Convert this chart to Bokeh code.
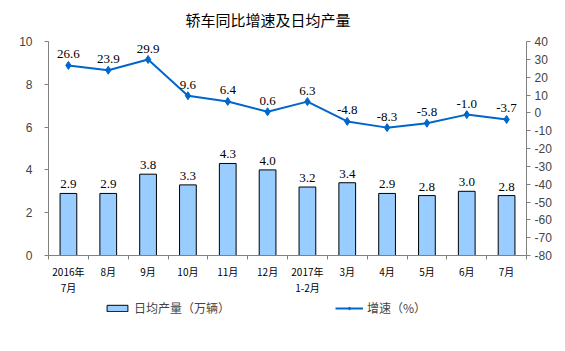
from bokeh.plotting import figure
from bokeh.layouts import column
from bokeh.models import (ColumnDataSource, Range1d, LinearAxis, FixedTicker, LabelSet,
                          Legend, LegendItem, Label)
from bokeh.embed import file_html
from bokeh.resources import INLINE

title_text = "轿车同比增速及日均产量"
categories = ["2016年\n7月", "8月", "9月", "10月", "11月", "12月", "2017年\n1-2月",
              "3月", "4月", "5月", "6月", "7月"]
daily_output = [2.9, 2.9, 3.8, 3.3, 4.3, 4.0, 3.2, 3.4, 2.9, 2.8, 3.0, 2.8]
growth = [26.6, 23.9, 29.9, 9.6, 6.4, 0.6, 6.3, -4.8, -8.3, -5.8, -1.0, -3.7]
left_ticks = [0, 2, 4, 6, 8, 10]
right_ticks = list(range(-80, 41, 10))
bar_name = "日均产量（万辆）"
line_name = "增速（%）"

xs = list(range(len(categories)))
src = ColumnDataSource(dict(
    x=xs, out=daily_output, g=growth,
    out_lbl=[f"{v:.1f}" for v in daily_output],
    g_lbl=[f"{v:.1f}" for v in growth],
))

BAR_FILL = "#99CCFF"
LINE_COL = "#0066CC"
AX_COL = "#808080"
num_font = "Arial"
cjk_font = "Noto Sans CJK SC"


def bare(fig):
    fig.grid.visible = False
    fig.outline_line_color = None


# ---- title strip (frames are aligned with the main chart's frame, left edge at x=48)
tf = figure(width=565, height=32, output_backend="svg", toolbar_location=None,
            x_range=Range1d(0, 1), y_range=Range1d(0, 1),
            x_axis_location=None, y_axis_location=None,
            min_border_left=0, min_border_right=0, min_border_top=0, min_border_bottom=0)
bare(tf)
tf.add_layout(Label(x=137, y=13, x_units="screen", y_units="screen", text=title_text,
                    text_font=cjk_font, text_font_size="15px", text_baseline="middle",
                    text_align="left", text_color="black"))

# ---- main chart
p = figure(width=565, height=266, output_backend="svg", toolbar_location=None,
           x_range=Range1d(-0.5, 11.5), y_range=Range1d(0, 10),
           min_border_left=48, min_border_right=39, min_border_top=9, min_border_bottom=30)
bare(p)
p.extra_y_ranges = {"pct": Range1d(-80, 40)}

p.vbar(x="x", top="out", width=0.42, source=src, fill_color=BAR_FILL,
       line_color="black", line_width=1)
p.line(x="x", y="g", source=src, y_range_name="pct", line_color=LINE_COL, line_width=2)
p.scatter(x="x", y="g", source=src, y_range_name="pct", marker="diamond", size=8,
          fill_color=LINE_COL, line_color=LINE_COL)

xa = p.xaxis[0]
xa.ticker = FixedTicker(ticks=xs, minor_ticks=[i - 0.5 for i in range(len(categories) + 1)])
xa.major_label_overrides = {i: c for i, c in enumerate(categories)}
xa.major_tick_line_color = None
xa.minor_tick_in = 0
xa.minor_tick_out = 4
xa.minor_tick_line_color = AX_COL
xa.axis_line_color = AX_COL
xa.major_label_text_font = cjk_font
xa.major_label_text_font_size = "10px"
xa.major_label_text_line_height = 1.1
xa.major_label_standoff = 2
xa.major_label_text_color = "black"

ya = p.yaxis[0]
ya.ticker = FixedTicker(ticks=left_ticks)
ya.minor_tick_line_color = None
ya.major_tick_in = 0
ya.major_tick_out = 4
ya.major_tick_line_color = AX_COL
ya.axis_line_color = AX_COL
ya.major_label_text_font = num_font
ya.major_label_text_font_size = "12px"
ya.major_label_standoff = 12

ra = LinearAxis(y_range_name="pct", ticker=FixedTicker(ticks=right_ticks))
ra.major_label_overrides = {t: str(t) for t in right_ticks}
ra.minor_tick_line_color = None
ra.major_tick_in = 0
ra.major_tick_out = 4
ra.major_tick_line_color = AX_COL
ra.axis_line_color = AX_COL
ra.major_label_text_font = num_font
ra.major_label_text_font_size = "12px"
ra.major_label_standoff = 4
p.add_layout(ra, "right")

p.add_layout(LabelSet(x="x", y="out", text="out_lbl", source=src, text_align="center",
                      y_offset=5, text_font=num_font, text_font_size="13px", text_color="black"))
p.add_layout(LabelSet(x="x", y="g", text="g_lbl", source=src, y_range_name="pct",
                      text_align="center", y_offset=7, text_font=num_font,
                      text_font_size="13px", text_color="black"))

# ---- legend strip
lg = figure(width=565, height=53, output_backend="svg", toolbar_location=None,
            x_range=Range1d(0, 1), y_range=Range1d(0, 1),
            x_axis_location=None, y_axis_location=None,
            min_border_left=0, min_border_right=0, min_border_top=0, min_border_bottom=0)
bare(lg)
dummy = ColumnDataSource(dict(x=[-10], y=[-10], top=[-10]))
rb = lg.vbar(x="x", top="top", width=0.1, source=dummy, fill_color=BAR_FILL,
             line_color="black", line_width=1)
rl = lg.line(x="x", y="y", source=dummy, line_color=LINE_COL, line_width=2)
rs = lg.scatter(x="x", y="y", source=dummy, marker="diamond", size=8,
                fill_color=LINE_COL, line_color=LINE_COL)

common = dict(label_text_font=cjk_font, label_text_font_size="12px", glyph_height=8,
              border_line_color=None, background_fill_alpha=0, padding=0, margin=0,
              label_standoff=4, label_height=14)
lg.add_layout(Legend(items=[LegendItem(label=bar_name, renderers=[rb])], location=(56, 35),
                     glyph_width=26, **common))
lg.add_layout(Legend(items=[LegendItem(label=line_name, renderers=[rl, rs])], location=(287, 35),
                     glyph_width=28, **common))

layout = column(tf, p, lg, spacing=0)
open("out.html", "w").write(file_html(layout, INLINE))
